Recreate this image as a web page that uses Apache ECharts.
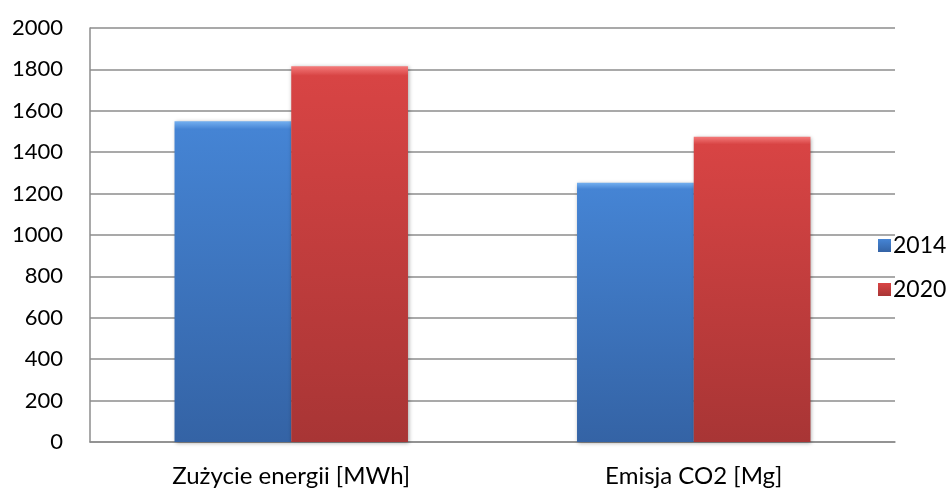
<!DOCTYPE html>
<html>
<head>
<meta charset="utf-8">
<script src="https://cdn.jsdelivr.net/npm/echarts@6/dist/echarts.min.js"></script>
<style>
  html, body { margin: 0; padding: 0; background: #ffffff; }
  #chart { width: 949px; height: 488px; }
</style>
</head>
<body>
<div id="chart"></div>
<script>
// Categories and series values
const categories = ['Zużycie energii [MWh]', 'Emisja CO2 [Mg]'];
const seriesNames = ['2014', '2020'];
const values2014 = [1550, 1253];
const values2020 = [1815, 1475];
const yTicks = [0, 200, 400, 600, 800, 1000, 1200, 1400, 1600, 1800, 2000];

const FONT = 'Lato, "Open Sans", sans-serif';

// Vertical gradient with a thin light band at the top edge
function grad(top, mid, bottom) {
  return new echarts.graphic.LinearGradient(0, 0, 0, 1, [
    { offset: 0, color: top },
    { offset: 0.025, color: mid },
    { offset: 1, color: bottom }
  ]);
}

const chart = echarts.init(document.getElementById('chart'), null, { renderer: 'canvas' });

chart.setOption({
  animation: false,
  backgroundColor: '#ffffff',
  grid: { left: 90, right: 54, top: 28, bottom: 46 },
  legend: {
    orient: 'vertical',
    left: 873,
    top: 229,
    itemWidth: 13,
    itemHeight: 13,
    itemGap: 21,
    icon: 'rect',
    textStyle: { fontFamily: FONT, fontSize: 23, color: '#000000', padding: [0, 0, 0, -3] },
    data: seriesNames
  },
  xAxis: {
    type: 'category',
    data: categories,
    axisLine: { lineStyle: { color: '#8c8c8c', width: 1.5 } },
    axisTick: { show: false },
    axisLabel: { fontFamily: FONT, fontSize: 24, color: '#000000', margin: 22 }
  },
  yAxis: {
    type: 'value',
    min: yTicks[0],
    max: yTicks[yTicks.length - 1],
    interval: 200,
    axisLine: { show: true, lineStyle: { color: '#8c8c8c', width: 1.5 } },
    axisTick: { show: false },
    splitLine: { lineStyle: { color: '#8c8c8c', width: 1.5 } },
    axisLabel: {
      fontFamily: FONT, fontSize: 22, color: '#000000', margin: 27,
      formatter: (v) => String(v)
    }
  },
  series: [
    {
      name: seriesNames[0],
      type: 'bar',
      data: values2014,
      barWidth: '29%',
      barGap: '0%',
      itemStyle: {
        color: grad('#74b0f0', '#4584d4', '#3463a5'),
        shadowColor: 'rgba(0,0,0,0.35)',
        shadowBlur: 4,
        shadowOffsetX: 1,
        shadowOffsetY: 1
      }
    },
    {
      name: seriesNames[1],
      type: 'bar',
      data: values2020,
      barWidth: '29%',
      barGap: '0%',
      itemStyle: {
        color: grad('#f47a7a', '#d84444', '#a83535'),
        shadowColor: 'rgba(0,0,0,0.35)',
        shadowBlur: 4,
        shadowOffsetX: 1,
        shadowOffsetY: 1
      }
    }
  ]
});
</script>
</body>
</html>
